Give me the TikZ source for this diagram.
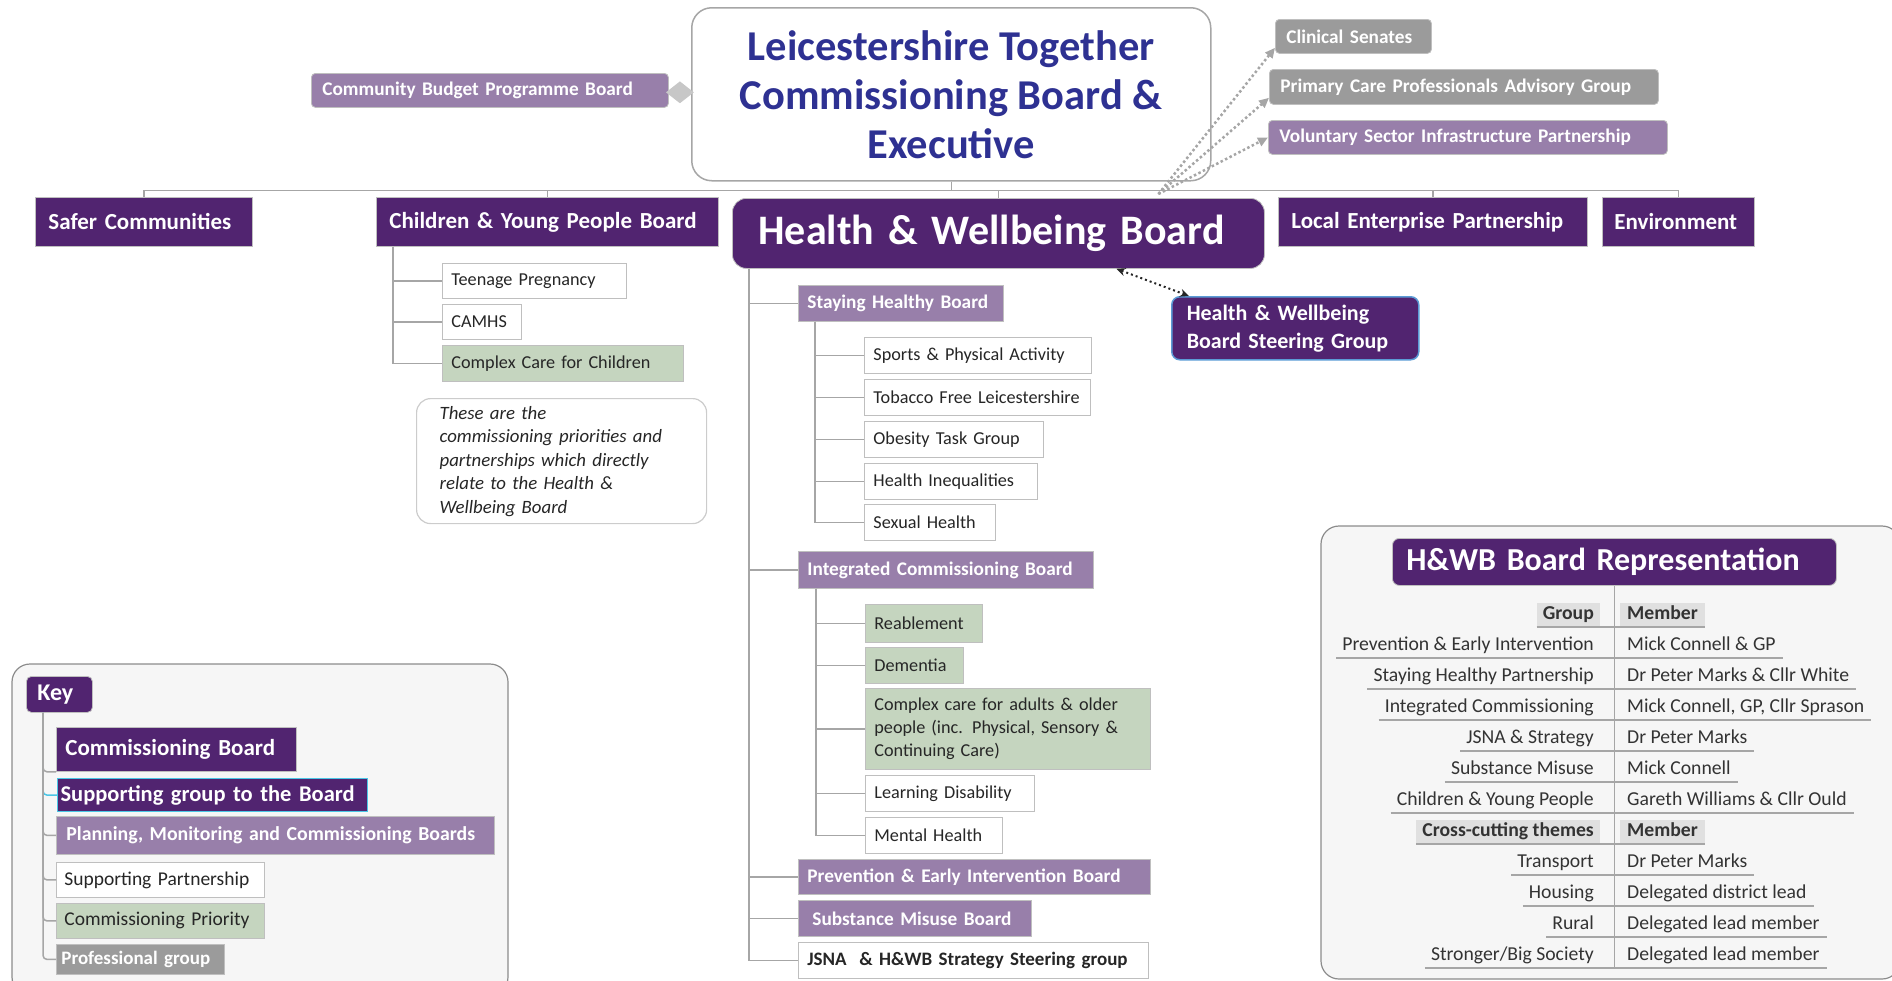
\documentclass[tikz,border=0pt]{standalone}
\usepackage{fontspec}
\setmainfont{Carlito}
\usetikzlibrary{arrows.meta,shapes.geometric}
\definecolor{dpurple}{RGB}{81,36,112}
\definecolor{lpurple}{RGB}{152,127,170}
\definecolor{prigreen}{RGB}{197,213,191}
\definecolor{profgray}{RGB}{155,155,155}
\definecolor{titlenavy}{RGB}{46,49,146}
\definecolor{linegray}{RGB}{166,166,166}
\definecolor{panelgray}{RGB}{246,246,246}
\definecolor{hdrgray}{RGB}{224,224,224}
\definecolor{steerblue}{RGB}{91,155,213}
\definecolor{keycyan}{RGB}{75,198,230}
\newcommand\fsz[2]{\fontsize{#1}{#2}\selectfont}
\tikzset{
  boxbase/.style={anchor=north west, align=left, draw=black!25, line width=0.8pt,
    inner ysep=0pt, text=white},
  topboard/.style={boxbase, fill=dpurple, font=\fsz{23}{27}\bfseries, inner xsep=13pt, minimum height=49pt},
  subboard/.style={boxbase, fill=lpurple, font=\fsz{19.3}{23}\bfseries, inner xsep=9pt, minimum height=36pt},
  sidebox/.style={boxbase, rounded corners=4pt, font=\fsz{19.3}{23}\bfseries, inner xsep=11pt, minimum height=34pt},
  partner/.style={boxbase, fill=white, text=black!85, font=\fsz{18.2}{23}, inner xsep=9pt, minimum height=36pt},
  priority/.style={partner, fill=prigreen},
  keyitem/.style={boxbase, inner xsep=9pt},
  treeline/.style={draw=linegray, line width=1.5pt},
  proflink/.style={draw=linegray, line width=2.5pt, dash pattern=on 2.5pt off 2.5pt,
    -{Triangle[length=10pt,width=9pt]}},
  steerlink/.style={draw=black!85, line width=2pt, dash pattern=on 2pt off 3pt,
    {Stealth[length=9pt,width=8pt]}-{Stealth[length=9pt,width=8pt]}},
  panel/.style={draw=black!45, line width=1.2pt, fill=panelgray, rounded corners=18pt},
  repcell/.style={inner xsep=6pt, inner ysep=3pt, text height=14pt, text depth=4pt, text=black!80},
}

\begin{document}
\begin{tikzpicture}[x=1pt, y=-1pt]
\useasboundingbox (0,0) rectangle (1892,980);
% panels behind the key and the table
\draw[panel] (12,664) rectangle (508,995);
\draw[panel] (1321,526) rectangle (1900,979);

% top level
\node[anchor=north west, draw=linegray, line width=1.5pt, rounded corners=20pt, fill=white,
  minimum width=519pt, minimum height=173pt, align=center, text=titlenavy,
  font=\fsz{42.5}{49}\bfseries] (lt) at (691,7) {Leicestershire Together\\Commissioning Board \&\\Executive};
\node[sidebox, fill=lpurple, text width=335pt] (cbp) at (311,73) {Community Budget Programme Board};
\node[sidebox, fill=profgray, text width=134pt] (cs) at (1275,19) {Clinical Senates};
\node[sidebox, fill=profgray, text width=367pt, minimum height=35pt] (pc) at (1269,69) {Primary Care Professionals Advisory Group};
\node[sidebox, fill=lpurple, text width=377pt] (vs) at (1268,120) {Voluntary Sector Infrastructure Partnership};

\node[topboard, text width=191pt] (safer) at (35,197) {Safer Communities};
\node[topboard, text width=316pt] (cyp) at (376,197) {Children \& Young People Board};
\node[topboard, rounded corners=14pt, font=\fsz{42}{48}\bfseries, inner xsep=26pt, text width=480pt, minimum height=70pt] (hwb) at (732,198) {Health \& Wellbeing Board};
\node[topboard, text width=283pt] (lep) at (1278,197) {Local Enterprise Partnership};
\node[topboard, text width=128pt, inner xsep=12pt] (env) at (1602,197) {Environment};
\node[topboard, draw=steerblue, line width=1.5pt, rounded corners=8pt, font=\fsz{22}{28}\bfseries, inner xsep=15pt, text width=217pt, minimum height=63pt] (sg) at (1171,296) {Health \& Wellbeing\\Board Steering Group};

% children and young people
\node[partner, text width=166pt, minimum height=35pt] (teen) at (442,263) {Teenage Pregnancy};
\node[partner, text width=61pt, minimum height=35pt] (camhs) at (442,304) {CAMHS};
\node[priority, text width=223pt] (ccc) at (442,345) {Complex Care for Children};
\node[boxbase, draw=black!20, line width=1.2pt, rounded corners=14pt, fill=white, text=black!85,
  font=\fsz{18.8}{23.5}\itshape, inner xsep=23pt, text width=244pt, minimum height=125pt] (note) at (416,398)
  {These are the\\commissioning priorities and\\partnerships which directly\\relate to the Health \&\\Wellbeing Board};

% health and wellbeing
\node[subboard, text width=187pt] (shb) at (798,285) {Staying Healthy Board};
\node[partner, text width=209pt] (spa) at (864,337) {Sports \& Physical Activity};
\node[partner, text width=208pt] (tfl) at (864,379) {Tobacco Free Leicestershire};
\node[partner, text width=161pt] (otg) at (864,421) {Obesity Task Group};
\node[partner, text width=155pt] (hin) at (864,463) {Health Inequalities};
\node[partner, text width=113pt] (sxh) at (864,504) {Sexual Health};
\node[subboard, text width=277pt, minimum height=37pt] (icb) at (798,551) {Integrated Commissioning Board};
\node[priority, text width=99pt, minimum height=38pt] (rea) at (865,604) {Reablement};
\node[priority, text width=80pt] (dem) at (865,647) {Dementia};
\node[priority, text width=267pt, minimum height=81pt] (cca) at (865,688) {Complex care for adults \& older\\people (inc. Physical, Sensory \&\\Continuing Care)};
\node[partner, text width=151pt] (lds) at (865,775) {Learning Disability};
\node[partner, text width=119pt] (mnh) at (865,817) {Mental Health};
\node[subboard, text width=334pt, minimum height=35pt] (pei) at (798,859) {Prevention \& Early Intervention Board};
\node[subboard, inner xsep=14pt, text width=205pt] (smb) at (798,900) {Substance Misuse Board};
\node[partner, font=\fsz{19}{23}\bfseries, text width=332pt] (jsna) at (798,942) {JSNA\ \ \& H\&WB Strategy Steering group};

\foreach \n in {safer,cyp,hwb,lep,env}
  \draw[treeline] (lt.south) -- ++(0,9) -| (\n.north);
\foreach \n in {teen,camhs,ccc}
  \draw[treeline] ([xshift=17pt]cyp.south west) |- (\n.west);
\foreach \n in {shb,icb,pei,smb,jsna}
  \draw[treeline] ([xshift=17pt]hwb.south west) |- (\n.west);
\foreach \n in {spa,tfl,otg,hin,sxh}
  \draw[treeline] ([xshift=17pt]shb.south west) |- (\n.west);
\foreach \n in {rea,dem,cca,lds,mnh}
  \draw[treeline] ([xshift=18pt]icb.south west) |- (\n.west);

\path (cbp.east) -- (lt.west) node[midway, diamond, fill=black!22, inner sep=0pt, minimum width=28pt, minimum height=22pt] (dm) {};
\coordinate (hub) at ([xshift=160pt,yshift=4pt]hwb.north);
\draw[proflink] (hub) -- ([yshift=6pt]cs.south west);
\draw[proflink] (hub) -- ([yshift=7pt]pc.south west);
\draw[proflink] (hub) -- (vs.west);
\draw[steerlink] ([xshift=118pt]hwb.south) -- ([xshift=18pt]sg.north west);

% key
\node[boxbase, fill=dpurple, rounded corners=5pt, font=\fsz{24}{28}\bfseries, inner xsep=11pt, text width=44pt, minimum height=36pt] (key) at (26,676) {Key};
\node[keyitem, fill=dpurple, font=\fsz{23}{27}\bfseries, text width=222pt, minimum height=44pt] (kcb) at (56,727) {Commissioning Board};
\node[keyitem, fill=dpurple, draw=keycyan, line width=1.2pt, font=\fsz{22.5}{27}\bfseries, inner xsep=3pt, text width=304pt, minimum height=33pt] (ksg) at (57,778) {Supporting group to the Board};
\node[keyitem, fill=lpurple, font=\fsz{19.8}{23}\bfseries, inner xsep=10pt, text width=418pt, minimum height=38pt] (kpm) at (56,816) {Planning, Monitoring and Commissioning Boards};
\node[keyitem, fill=white, text=black!85, font=\fsz{19.5}{23}, inner xsep=8pt, text width=192pt, minimum height=35pt] (ksp) at (56,862) {Supporting Partnership};
\node[keyitem, fill=prigreen, text=black!85, font=\fsz{19.5}{23}, inner xsep=8pt, text width=192pt, minimum height=35pt] (kcp) at (56,903) {Commissioning Priority};
\node[keyitem, fill=profgray, font=\fsz{19}{23}\bfseries, inner xsep=5pt, text width=158pt, minimum height=30pt] (kpg) at (56,944) {Professional group};
\draw[treeline, draw=keycyan, rounded corners=4pt] ([xshift=17pt]key.south west) |- (ksg.west);
\draw[treeline, rounded corners=4pt] ([xshift=17pt]key.south west) |- (kcb.south west);
\foreach \n in {kpm,ksp,kcp,kpg}
  \draw[treeline, rounded corners=4pt] ([xshift=17pt]key.south west) |- (\n.west);

% representation table
\node[boxbase, fill=dpurple, rounded corners=7pt, font=\fsz{32}{36}\bfseries, inner xsep=14pt, text width=416pt, minimum height=47pt] (rt) at (1392,538) {H\&WB Board Representation};
\foreach \g/\m/\hc/\hf [count=\i] in {
  Group/Member/hdrgray/\bfseries,
  {Prevention \& Early Intervention}/{Mick Connell \& GP}/panelgray/\mdseries,
  {Staying Healthy Partnership}/{Dr Peter Marks \& Cllr White}/panelgray/\mdseries,
  {Integrated Commissioning}/{Mick Connell, GP, Cllr Sprason}/panelgray/\mdseries,
  {JSNA \& Strategy}/{Dr Peter Marks}/panelgray/\mdseries,
  {Substance Misuse}/{Mick Connell}/panelgray/\mdseries,
  {Children \& Young People}/{Gareth Williams \& Cllr Ould}/panelgray/\mdseries,
  {Cross-cutting themes}/Member/hdrgray/\bfseries,
  Transport/{Dr Peter Marks}/panelgray/\mdseries,
  Housing/{Delegated district lead}/panelgray/\mdseries,
  Rural/{Delegated lead member}/panelgray/\mdseries,
  {Stronger/Big Society}/{Delegated lead member}/panelgray/\mdseries}{
  \node[repcell, anchor=south east, fill=\hc, font=\fsz{19.7}{23}\hf] (gl\i) at (1600,596+31*\i) {\g};
  \node[repcell, anchor=south west, fill=\hc, font=\fsz{19.7}{23}\hf, inner xsep=7pt] (mr\i) at (1620,596+31*\i) {\m};
  \draw[draw=linegray, line width=1.2pt] (gl\i.south west) -- (mr\i.south east);
}
\draw[draw=linegray, line width=1.5pt] (rt.south) -- (rt.south |- mr12.south);
\end{tikzpicture}
\end{document}
